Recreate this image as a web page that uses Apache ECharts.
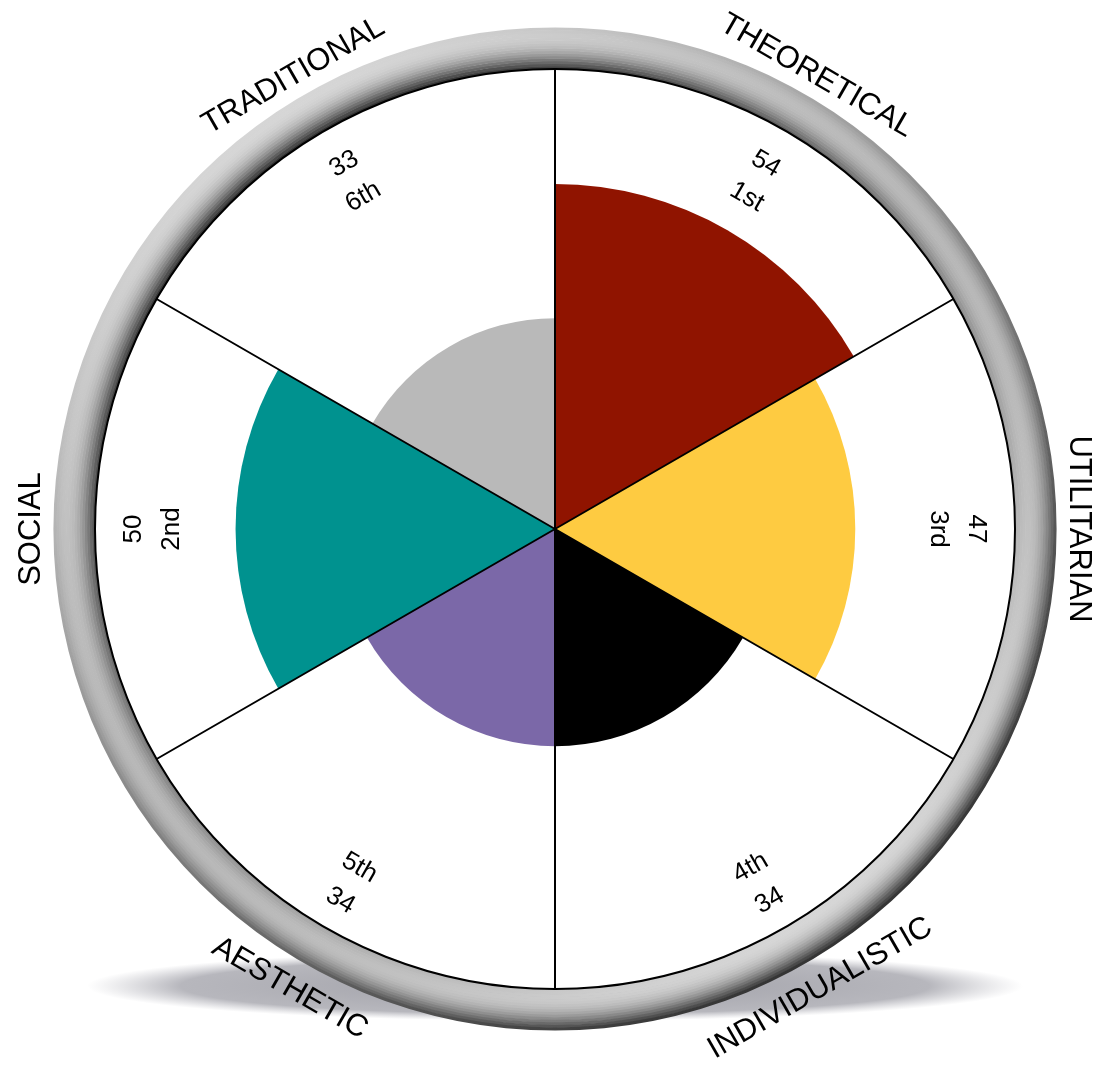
<!DOCTYPE html>
<html>
<head>
<meta charset="utf-8">
<title>Values wheel</title>
<script src="https://cdn.jsdelivr.net/npm/echarts@6/dist/echarts.min.js"></script>
<style>
  html, body { margin: 0; padding: 0; background: #fff; }
  #chart { width: 1094px; height: 1068px; }
</style>
</head>
<body>
<div id="chart"></div>
<script>
// clockwise from 12 o'clock
const categories = ['THEORETICAL', 'UTILITARIAN', 'INDIVIDUALISTIC', 'AESTHETIC', 'SOCIAL', 'TRADITIONAL'];
const scores = [54, 47, 34, 34, 50, 33];
const ranks = ['1st', '3rd', '4th', '5th', '2nd', '6th'];
const colors = ['#901400', '#fecb41', '#000000', '#7b68a8', '#00928f', '#b9b9b9'];
const scoreMax = 72;

const CX = 555, CY = 529, R = 460, RING = 41;
const FONT = '"Liberation Sans", Arial, Helvetica, sans-serif';

const chart = echarts.init(document.getElementById('chart'));

// pie used only as a decorative ring / disc
function deco(radius, z, color) {
  return {
    type: 'pie', center: [CX, CY], radius: radius, z: z, silent: true,
    label: { show: false }, labelLine: { show: false }, emphasis: { disabled: true },
    data: [{ value: 1, itemStyle: { color: color } }]
  };
}

// bezel: thin rings, each shaded by a linear gradient (light from upper left)
function grey(v) {
  const c = Math.max(0, Math.min(255, Math.round(v * 255)));
  return 'rgb(' + c + ',' + c + ',' + c + ')';
}
const bezel = [];
const STEPS = 16;
const lightAng = 125 * Math.PI / 180;
const lx = Math.cos(lightAng), ly = -Math.sin(lightAng);
for (let s = 0; s < STEPS; s++) {
  const t = (s + 0.5) / STEPS;
  const base = 0.5 + 0.22 * Math.sin(Math.PI * t);
  const k = 0.34 * (2 * t - 1);
  bezel.push(deco([R + RING * s / STEPS, R + RING * (s + 1) / STEPS + 0.6], 3, {
    type: 'linear',
    x: 0.5 + 0.5 * lx, y: 0.5 + 0.5 * ly, x2: 0.5 - 0.5 * lx, y2: 0.5 - 0.5 * ly,
    colorStops: [
      { offset: 0, color: grey(base + k) },
      { offset: 1, color: grey(base - k) }
    ]
  }));
}

const option = {
  animation: false,
  backgroundColor: '#fff',
  graphic: [{
    type: 'circle', z: 0, silent: true,
    x: CX, y: 986, scaleY: 0.075,
    shape: { cx: 0, cy: 0, r: 468 },
    style: {
      fill: new echarts.graphic.RadialGradient(0.5, 0.5, 0.5, [
        { offset: 0, color: 'rgba(125,125,135,0.75)' },
        { offset: 0.8, color: 'rgba(135,135,145,0.6)' },
        { offset: 1, color: 'rgba(165,165,175,0)' }
      ])
    }
  }],
  polar: { center: [CX, CY], radius: R },
  angleAxis: {
    type: 'category', data: categories, startAngle: 90, clockwise: true, z: 4,
    axisLine: { show: true, lineStyle: { color: '#000', width: 2 } },
    axisTick: { show: false },
    axisLabel: { show: false },
    splitLine: { show: true, lineStyle: { color: '#000', width: 2 } }
  },
  radiusAxis: {
    min: 0, max: scoreMax,
    axisLine: { show: false }, axisTick: { show: false },
    axisLabel: { show: false }, splitLine: { show: false }
  },
  series: [deco([0, R], 1, '#fff')].concat(bezel, [
    {
      type: 'bar', coordinateSystem: 'polar', z: 2, silent: true,
      barCategoryGap: '0%',
      data: scores.map((v, i) => ({ value: v, itemStyle: { color: colors[i] } }))
    },
    {
      type: 'custom', coordinateSystem: 'polar', z: 6, silent: true,
      data: scores.map((v, i) => [v, categories[i]]),
      renderItem: function (params, api) {
        const i = params.dataIndex;
        const idx = api.value(1);
        const cs = params.coordSys;
        const probe = api.coord([scoreMax, idx]);
        const th = Math.atan2(cs.cy - probe[1], probe[0] - cs.cx);
        const top = Math.sin(th) > -0.1;
        const rot = top ? th - Math.PI / 2 : th + Math.PI / 2;
        const pIn = api.coord([top ? 63 : 64.2, idx]);
        const pOut = api.coord([top ? 81.9 : 83, idx]);
        const inner = top ? scores[i] + '\n' + ranks[i] : ranks[i] + '\n' + scores[i];
        return {
          type: 'group',
          children: [{
            type: 'text', x: pIn[0], y: pIn[1], rotation: rot,
            style: {
              text: inner, fontSize: 26, fontFamily: FONT, lineHeight: 38,
              fill: '#000', align: 'center', verticalAlign: 'middle'
            }
          }, {
            type: 'text', x: pOut[0], y: pOut[1], rotation: rot,
            style: {
              text: categories[i], fontSize: 31, fontFamily: FONT,
              fill: '#000', align: 'center', verticalAlign: 'middle'
            }
          }]
        };
      }
    }
  ])
};

chart.setOption(option);
</script>
</body>
</html>
